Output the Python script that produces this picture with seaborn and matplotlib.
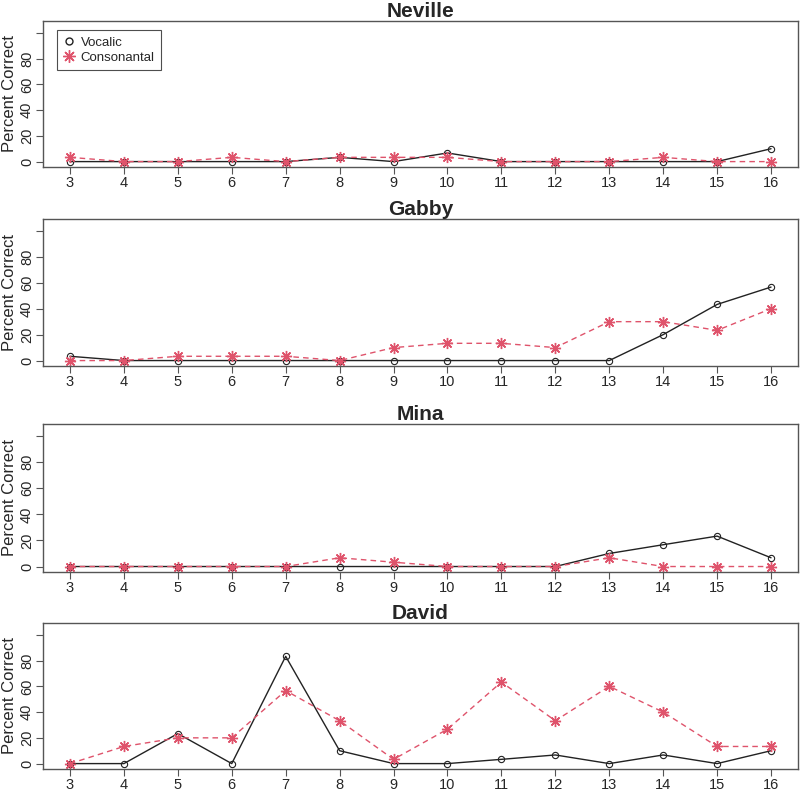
import numpy as np
import pandas as pd
import matplotlib
matplotlib.use("Agg")
import matplotlib.pyplot as plt
from matplotlib.lines import Line2D
import seaborn as sns

sns.set_style("white")
plt.rcParams['font.family'] = ['Liberation Sans', 'DejaVu Sans']

# Data: percent correct per session
sessions = list(range(3, 17))
speakers = ['Neville', 'Gabby', 'Mina', 'David']

neville_voc = [0, 0, 0, 0, 0, 3.3, 0, 6.7, 0, 0, 0, 0, 0, 10]
neville_con = [3.3, 0, 0, 3.3, 0, 3.3, 3.3, 3.3, 0, 0, 0, 3.3, 0, 0]
gabby_voc = [3.3, 0, 0, 0, 0, 0, 0, 0, 0, 0, 0, 20, 43.3, 56.7]
gabby_con = [0, 0, 3.3, 3.3, 3.3, 0, 10, 13.3, 13.3, 10, 30, 30, 23.3, 40]
mina_voc = [0, 0, 0, 0, 0, 0, 0, 0, 0, 0, 10, 16.7, 23.3, 6.7]
mina_con = [0, 0, 0, 0, 0, 6.7, 3.3, 0, 0, 0, 6.7, 0, 0, 0]
david_voc = [0, 0, 23.3, 0, 83.3, 10, 0, 0, 3.3, 6.7, 0, 6.7, 0, 10]
david_con = [0, 13.3, 20, 20, 56.7, 33.3, 3.3, 26.7, 63.3, 33.3, 60, 40, 13.3, 13.3]

vocalic = [neville_voc, gabby_voc, mina_voc, david_voc]
consonantal = [neville_con, gabby_con, mina_con, david_con]

red = '#DF536B'
dark = '#222222'
edge = '#555555'

fig = plt.figure(figsize=(8, 7.93), dpi=100)
# axes boxes in pixels (top, bottom)
boxes = [(21, 167), (219, 366), (424, 572), (623, 769)]
W, H = 800, 793

for i, name in enumerate(speakers):
    top, bot = boxes[i]
    ax = fig.add_axes([43 / W, 1 - bot / H, 755 / W, (bot - top) / H])
    sns.lineplot(x=sessions, y=vocalic[i], ax=ax, color=dark, lw=1.0,
                 marker='o', markersize=4.5, markerfacecolor='none',
                 markeredgecolor=dark, markeredgewidth=0.8)
    sns.lineplot(x=sessions, y=consonantal[i], ax=ax, color=red, lw=1.0,
                 linestyle=(0, (4, 3)), marker=(8, 2, 0), markersize=8,
                 markeredgecolor=red, markeredgewidth=1.0)
    ax.set_xlim(2.5, 16.5)
    ax.set_ylim(-4.2, 109.2)
    ax.set_xticks(sessions)
    ax.set_xticklabels([str(s) for s in sessions], fontsize=10.5)
    ax.set_yticks([0, 20, 40, 60, 80, 100])
    ax.set_yticklabels(['0', '20', '40', '60', '80', ''], fontsize=10.5,
                       rotation=90, va='center')
    ax.set_ylabel('Percent Correct', fontsize=12)
    ax.yaxis.set_label_coords(-0.034, 0.5)
    ax.set_xlabel('')
    ax.set_title(name, fontsize=15, fontweight='bold', pad=3)
    ax.tick_params(axis='both', direction='out', length=5, width=0.8,
                   color=edge, bottom=True, left=True, pad=1.5)
    for sp in ax.spines.values():
        sp.set_visible(True)
        sp.set_color(edge)
        sp.set_linewidth(1.0)
    if i == 0:
        hh = [Line2D([], [], ls='none', marker='o', markersize=5,
                     markerfacecolor='none', markeredgecolor=dark),
              Line2D([], [], ls='none', marker=(8, 2, 0), markersize=9,
                     markeredgecolor=red, color=red)]
        leg = ax.legend(hh, ['Vocalic', 'Consonantal'], loc='upper left',
                        bbox_to_anchor=(0.0185, 0.938), borderaxespad=0,
                        fontsize=9.5, frameon=True, fancybox=False,
                        handlelength=0.8, handletextpad=0.5, borderpad=0.5,
                        labelspacing=0.2)
        leg.get_frame().set_edgecolor(dark)
        leg.get_frame().set_linewidth(0.8)

fig.savefig('out.png', dpi=100)
